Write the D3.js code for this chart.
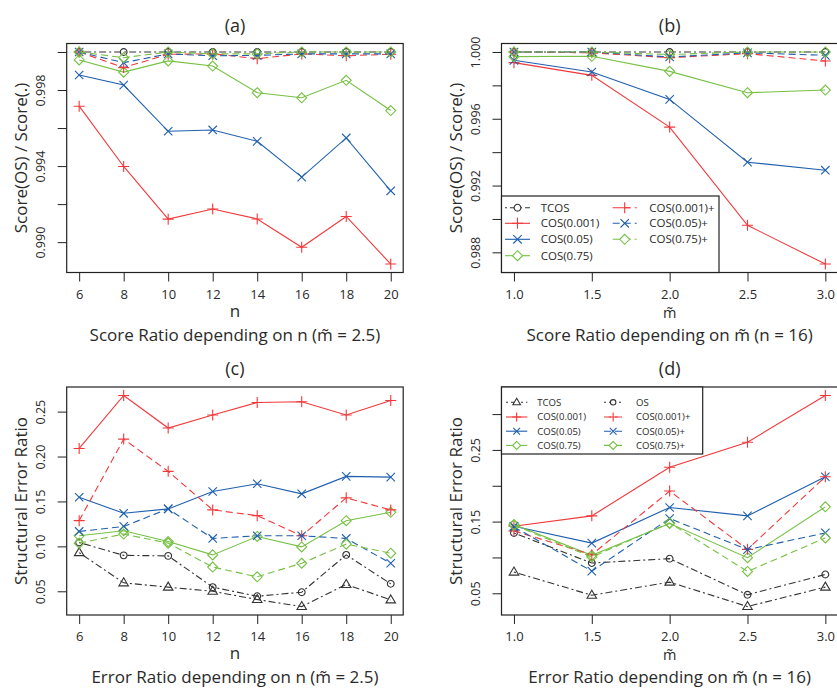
<!DOCTYPE html>
<html>
<head>
<meta charset="utf-8">
<script src="https://cdn.jsdelivr.net/npm/d3@7"></script>
<style>
  body { margin: 0; background: #fff; }
  svg { display: block; }
  text { font-family: "Open Sans", "Noto Sans", sans-serif; fill: #2a2a2a; }
</style>
</head>
<body>
<div id="chart"></div>
<script>
// x values
var nValues = [6, 8, 10, 12, 14, 16, 18, 20];
var mValues = [1.0, 1.5, 2.0, 2.5, 3.0];

// (a) score ratio depending on n
var scoreN_TCOS    = [1, 1, 1, 1, 1, 1, 1, 1];
var scoreN_COS001  = [0.99715, 0.99398, 0.99121, 0.99174, 0.99122, 0.98973, 0.99135, 0.98885];
var scoreN_COS05   = [0.99879, 0.99826, 0.99583, 0.99590, 0.99530, 0.99342, 0.99548, 0.99270];
var scoreN_COS75   = [0.99958, 0.99894, 0.99953, 0.99926, 0.99786, 0.99759, 0.99851, 0.99692];
var scoreN_COS001p = [1.0, 0.99918, 0.99988, 0.9999, 0.99965, 0.9999, 0.9998, 0.99988];
var scoreN_COS05p  = [1.0, 0.99944, 0.9999, 0.9998, 0.99982, 0.9999, 0.9999, 0.9999];
var scoreN_COS75p  = [1.0, 0.9997, 1.0, 0.9999, 0.9999, 1.0, 1.0, 1.0];

// (b) score ratio depending on m~
var scoreM_TCOS    = [1, 1, 1, 1, 1];
var scoreM_COS001  = [0.99936, 0.99860, 0.99550, 0.98962, 0.98730];
var scoreM_COS05   = [0.9995, 0.9988, 0.99716, 0.99340, 0.99292];
var scoreM_COS75   = [0.99972, 0.99974, 0.99884, 0.99756, 0.99772];
var scoreM_COS001p = [1.0, 0.99995, 0.99966, 0.9999, 0.99946];
var scoreM_COS05p  = [1.0, 1.0, 0.9997, 0.99995, 0.9998];
var scoreM_COS75p  = [1.0, 1.0, 0.99985, 1.0, 1.0];

// (c) error ratio depending on n
var errN_TCOS    = [0.093, 0.0594, 0.0546, 0.050, 0.0408, 0.033, 0.0576, 0.0404];
var errN_OS      = [0.1043, 0.090, 0.0894, 0.0546, 0.0445, 0.049, 0.0905, 0.0583];
var errN_COS001  = [0.209, 0.268, 0.2317, 0.2463, 0.2601, 0.2609, 0.2463, 0.2623];
var errN_COS05   = [0.1547, 0.1368, 0.1417, 0.1611, 0.1697, 0.1585, 0.1779, 0.1771];
var errN_COS75   = [0.1118, 0.1174, 0.1054, 0.0905, 0.111, 0.0994, 0.1286, 0.1379];
var errN_COS001p = [0.1286, 0.2194, 0.1835, 0.1406, 0.1342, 0.1118, 0.154, 0.1406];
var errN_COS05p  = [0.1166, 0.1222, 0.1417, 0.1088, 0.1118, 0.1118, 0.1088, 0.0812];
var errN_COS75p  = [0.1036, 0.1137, 0.1036, 0.077, 0.0661, 0.0812, 0.1025, 0.0924];

// (d) error ratio depending on m~
var errM_TCOS    = [0.0796, 0.0473, 0.0656, 0.0315, 0.0586];
var errM_OS      = [0.1342, 0.0922, 0.0983, 0.0479, 0.0763];
var errM_COS001  = [0.1436, 0.158, 0.2258, 0.2608, 0.326];
var errM_COS05   = [0.1436, 0.120, 0.1697, 0.158, 0.2126];
var errM_COS75   = [0.1459, 0.103, 0.1473, 0.0997, 0.1706];
var errM_COS001p = [0.137, 0.1039, 0.1926, 0.1113, 0.2126];
var errM_COS05p  = [0.1426, 0.081, 0.1543, 0.111, 0.1342];
var errM_COS75p  = [0.145, 0.1006, 0.1482, 0.0805, 0.1272];

// y ticks and which ones carry a label
var yTicksA = [0.990, 0.992, 0.994, 0.996, 0.998, 1.000];
var yLabelsA = [0.990, 0.994, 0.998];
var yTicksB = [0.988, 0.990, 0.992, 0.994, 0.996, 0.998, 1.000];
var yLabelsB = [0.988, 0.992, 0.996, 1.000];
var yTicksC = [0.05, 0.10, 0.15, 0.20, 0.25];
var yLabelsC = [0.05, 0.10, 0.15, 0.20, 0.25];
var yTicksD = [0.05, 0.10, 0.15, 0.20, 0.25, 0.30];
var yLabelsD = [0.05, 0.15, 0.25];

// colours
var red = "#f2383a", blue = "#1f5fae", green = "#76c043", grey = "#333333";
var dashed = "7,4", dotdash = "2,3,7,3";

var styles = {
  tcosC:   { color: grey,  dash: dotdash, shape: "circle" },
  tcosT:   { color: grey,  dash: dotdash, shape: "triangle" },
  os:      { color: grey,  dash: dotdash, shape: "circle" },
  cos001:  { color: red,   dash: null,    shape: "plus" },
  cos05:   { color: blue,  dash: null,    shape: "cross" },
  cos75:   { color: green, dash: null,    shape: "diamond" },
  cos001p: { color: red,   dash: dashed,  shape: "plus" },
  cos05p:  { color: blue,  dash: dashed,  shape: "cross" },
  cos75p:  { color: green, dash: dashed,  shape: "diamond" }
};

function shapePath(s, k) {
  k = k || 1;
  var r;
  if (s === "plus") { r = 5.5 * k; return "M" + (-r) + ",0H" + r + "M0," + (-r) + "V" + r; }
  if (s === "cross") { r = 4.2 * k; return "M" + (-r) + "," + (-r) + "L" + r + "," + r + "M" + (-r) + "," + r + "L" + r + "," + (-r); }
  if (s === "diamond") { r = 5 * k; return "M0," + (-r) + "L" + r + ",0L0," + r + "L" + (-r) + ",0Z"; }
  if (s === "triangle") { r = 5 * k; return "M0," + (-r) + "L" + (r * 0.95) + "," + (r * 0.6) + "L" + (-r * 0.95) + "," + (r * 0.6) + "Z"; }
  r = 3.4 * k;
  return "M" + r + ",0A" + r + "," + r + " 0 1,1 " + (-r) + ",0A" + r + "," + r + " 0 1,1 " + r + ",0Z";
}

var panels = [
  {
    title: "(a)", left: 66.7, right: 403.2, top: 43.5, bottom: 272.5,
    xs: nValues, xFmt: d3.format("d"), yTicks: yTicksA, yLabels: yLabelsA, yFmt: d3.format(".3f"),
    ylab: "Score(OS) / Score(.)", xlab: "n", tilde: false,
    sub: "Score Ratio depending on n (m\u0303 = 2.5)",
    series: [
      { name: "TCOS", vals: scoreN_TCOS, st: styles.tcosC },
      { name: "COS(0.001)", vals: scoreN_COS001, st: styles.cos001 },
      { name: "COS(0.05)", vals: scoreN_COS05, st: styles.cos05 },
      { name: "COS(0.75)", vals: scoreN_COS75, st: styles.cos75 },
      { name: "COS(0.001)+", vals: scoreN_COS001p, st: styles.cos001p },
      { name: "COS(0.05)+", vals: scoreN_COS05p, st: styles.cos05p },
      { name: "COS(0.75)+", vals: scoreN_COS75p, st: styles.cos75p }
    ]
  },
  {
    title: "(b)", left: 501.5, right: 837.8, top: 43.5, bottom: 272.5,
    xs: mValues, xFmt: d3.format(".1f"), yTicks: yTicksB, yLabels: yLabelsB, yFmt: d3.format(".3f"),
    ylab: "Score(OS) / Score(.)", xlab: "m\u0303", tilde: true,
    sub: "Score Ratio depending on m\u0303 (n = 16)",
    series: [
      { name: "TCOS", vals: scoreM_TCOS, st: styles.tcosC },
      { name: "COS(0.001)", vals: scoreM_COS001, st: styles.cos001 },
      { name: "COS(0.05)", vals: scoreM_COS05, st: styles.cos05 },
      { name: "COS(0.75)", vals: scoreM_COS75, st: styles.cos75 },
      { name: "COS(0.001)+", vals: scoreM_COS001p, st: styles.cos001p },
      { name: "COS(0.05)+", vals: scoreM_COS05p, st: styles.cos05p },
      { name: "COS(0.75)+", vals: scoreM_COS75p, st: styles.cos75p }
    ],
    legend: {
      x0: 501.5, x1: 719, y0: 196, y1: 272.5, font: 11.5, k: 1,
      rows: [207.7, 223.3, 239.3, 255.7],
      cols: [{ lx0: 505, lx1: 530, tx: 540.7 }, { lx0: 612.7, lx1: 636.7, tx: 649.3 }],
      items: [
        [0, 0, "TCOS", styles.tcosC], [0, 1, "COS(0.001)", styles.cos001],
        [0, 2, "COS(0.05)", styles.cos05], [0, 3, "COS(0.75)", styles.cos75],
        [1, 0, "COS(0.001)+", styles.cos001p], [1, 1, "COS(0.05)+", styles.cos05p],
        [1, 2, "COS(0.75)+", styles.cos75p]
      ]
    }
  },
  {
    title: "(c)", left: 66.7, right: 403.2, top: 387, bottom: 615,
    xs: nValues, xFmt: d3.format("d"), yTicks: yTicksC, yLabels: yLabelsC, yFmt: d3.format(".2f"),
    ylab: "Structural Error Ratio", xlab: "n", tilde: false,
    sub: "Error Ratio depending on n (m\u0303 = 2.5)",
    series: [
      { name: "TCOS", vals: errN_TCOS, st: styles.tcosT },
      { name: "OS", vals: errN_OS, st: styles.os },
      { name: "COS(0.001)", vals: errN_COS001, st: styles.cos001 },
      { name: "COS(0.05)", vals: errN_COS05, st: styles.cos05 },
      { name: "COS(0.75)", vals: errN_COS75, st: styles.cos75 },
      { name: "COS(0.001)+", vals: errN_COS001p, st: styles.cos001p },
      { name: "COS(0.05)+", vals: errN_COS05p, st: styles.cos05p },
      { name: "COS(0.75)+", vals: errN_COS75p, st: styles.cos75p }
    ]
  },
  {
    title: "(d)", left: 501.5, right: 837.8, top: 387, bottom: 615,
    xs: mValues, xFmt: d3.format(".1f"), yTicks: yTicksD, yLabels: yLabelsD, yFmt: d3.format(".2f"),
    ylab: "Structural Error Ratio", xlab: "m\u0303", tilde: true,
    sub: "Error Ratio depending on m\u0303 (n = 16)",
    series: [
      { name: "TCOS", vals: errM_TCOS, st: styles.tcosT },
      { name: "OS", vals: errM_OS, st: styles.os },
      { name: "COS(0.001)", vals: errM_COS001, st: styles.cos001 },
      { name: "COS(0.05)", vals: errM_COS05, st: styles.cos05 },
      { name: "COS(0.75)", vals: errM_COS75, st: styles.cos75 },
      { name: "COS(0.001)+", vals: errM_COS001p, st: styles.cos001p },
      { name: "COS(0.05)+", vals: errM_COS05p, st: styles.cos05p },
      { name: "COS(0.75)+", vals: errM_COS75p, st: styles.cos75p }
    ],
    legend: {
      x0: 501.5, x1: 702.7, y0: 387, y1: 454, font: 9.6, k: 0.8,
      rows: [402.3, 417, 431.2, 445.4],
      cols: [{ lx0: 506, lx1: 527.3, tx: 537.3 }, { lx0: 604, lx1: 622.3, tx: 636 }],
      items: [
        [0, 0, "TCOS", styles.tcosT], [0, 1, "COS(0.001)", styles.cos001],
        [0, 2, "COS(0.05)", styles.cos05], [0, 3, "COS(0.75)", styles.cos75],
        [1, 0, "OS", styles.os], [1, 1, "COS(0.001)+", styles.cos001p],
        [1, 2, "COS(0.05)+", styles.cos05p], [1, 3, "COS(0.75)+", styles.cos75p]
      ]
    }
  }
];

var svg = d3.select("#chart").append("svg")
  .attr("width", 837).attr("height", 691);

// pad a range by 4% on both sides, like R does
function padded(ext) {
  var p = (ext[1] - ext[0]) * 0.04;
  return [ext[0] - p, ext[1] + p];
}

panels.forEach(function(p) {
  var g = svg.append("g");
  var allY = [];
  p.series.forEach(function(s) { allY = allY.concat(s.vals); });

  var x = d3.scaleLinear().domain(padded(d3.extent(p.xs))).range([p.left, p.right]);
  var y = d3.scaleLinear().domain(padded(d3.extent(allY))).range([p.bottom, p.top]);

  var line = d3.line()
    .x(function(d, i) { return x(p.xs[i]); })
    .y(function(d) { return y(d); });

  // series lines and markers
  p.series.forEach(function(s) {
    g.append("path")
      .attr("d", line(s.vals))
      .attr("fill", "none")
      .attr("stroke", s.st.color)
      .attr("stroke-width", 1.1)
      .attr("stroke-dasharray", s.st.dash);

    g.selectAll(null)
      .data(s.vals)
      .enter()
      .append("path")
      .attr("transform", function(d, i) { return "translate(" + x(p.xs[i]) + "," + y(d) + ")"; })
      .attr("d", shapePath(s.st.shape))
      .attr("fill", "none")
      .attr("stroke", s.st.color)
      .attr("stroke-width", 1.1);
  });

  // x axis
  var xa = g.append("g")
    .attr("transform", "translate(0," + p.bottom + ")")
    .call(d3.axisBottom(x).tickValues(p.xs).tickFormat(p.xFmt).tickSize(9).tickSizeOuter(0));
  xa.select(".domain").remove();
  xa.selectAll("line").attr("stroke", "#222");
  xa.selectAll("text")
    .attr("y", 0).attr("dy", 0)
    .attr("transform", "translate(0,26)")
    .style("font-size", "13px")
    .style("font-family", "'Open Sans', sans-serif")
    .attr("fill", "#2a2a2a");

  // y axis
  var ya = g.append("g")
    .attr("transform", "translate(" + p.left + ",0)")
    .call(d3.axisLeft(y).tickValues(p.yTicks)
      .tickFormat(function(d) { return p.yLabels.indexOf(d) >= 0 ? p.yFmt(d) : ""; })
      .tickSize(9).tickSizeOuter(0));
  ya.select(".domain").remove();
  ya.selectAll("line").attr("stroke", "#222");
  ya.selectAll("text")
    .attr("x", 0).attr("dy", 0).attr("y", -22)
    .attr("transform", "rotate(-90)")
    .style("text-anchor", "middle")
    .style("font-size", "12.5px")
    .style("font-family", "'Open Sans', sans-serif")
    .attr("fill", "#2a2a2a");

  // plot box
  g.append("rect")
    .attr("x", p.left).attr("y", p.top)
    .attr("width", p.right - p.left).attr("height", p.bottom - p.top)
    .attr("fill", "none").attr("stroke", "#222").attr("stroke-width", 1.2);

  var cx = (p.left + p.right) / 2;

  g.append("text")
    .attr("x", cx).attr("y", p.top - 12)
    .attr("text-anchor", "middle")
    .style("font-size", "18px")
    .text(p.title);

  // x label (m with tilde is a bit smaller so it fits between ticks and subtitle)
  g.append("text")
    .attr("x", cx).attr("y", p.bottom + (p.tilde ? 45 : 44))
    .attr("text-anchor", "middle")
    .style("font-size", p.tilde ? "14.5px" : "17px")
    .text(p.xlab);

  g.append("text")
    .attr("x", cx).attr("y", p.bottom + 68)
    .attr("text-anchor", "middle")
    .style("font-size", "17px")
    .text(p.sub);

  // y label
  var cy = (p.top + p.bottom) / 2;
  g.append("text")
    .attr("transform", "translate(" + (p.left - 40) + "," + cy + ") rotate(-90)")
    .attr("text-anchor", "middle")
    .style("font-size", "17px")
    .text(p.ylab);

  // legend
  if (p.legend) {
    var L = p.legend;
    var lg = g.append("g");
    lg.append("rect")
      .attr("x", L.x0).attr("y", L.y0)
      .attr("width", L.x1 - L.x0).attr("height", L.y1 - L.y0)
      .attr("fill", "#fff").attr("stroke", "#222").attr("stroke-width", 1.2);
    L.items.forEach(function(it) {
      var c = L.cols[it[0]], ry = L.rows[it[1]], st = it[3];
      var mx = (c.lx0 + c.lx1) / 2;
      lg.append("line")
        .attr("x1", c.lx0).attr("x2", c.lx1).attr("y1", ry).attr("y2", ry)
        .attr("stroke", st.color).attr("stroke-width", 1.1)
        .attr("stroke-dasharray", st.dash);
      lg.append("path")
        .attr("transform", "translate(" + mx + "," + ry + ")")
        .attr("d", shapePath(st.shape, L.k))
        .attr("fill", "#fff").attr("stroke", st.color).attr("stroke-width", 1.1);
      lg.append("text")
        .attr("x", c.tx).attr("y", ry)
        .attr("dy", "0.35em")
        .style("font-size", L.font + "px")
        .text(it[2]);
    });
  }
});
</script>
</body>
</html>
